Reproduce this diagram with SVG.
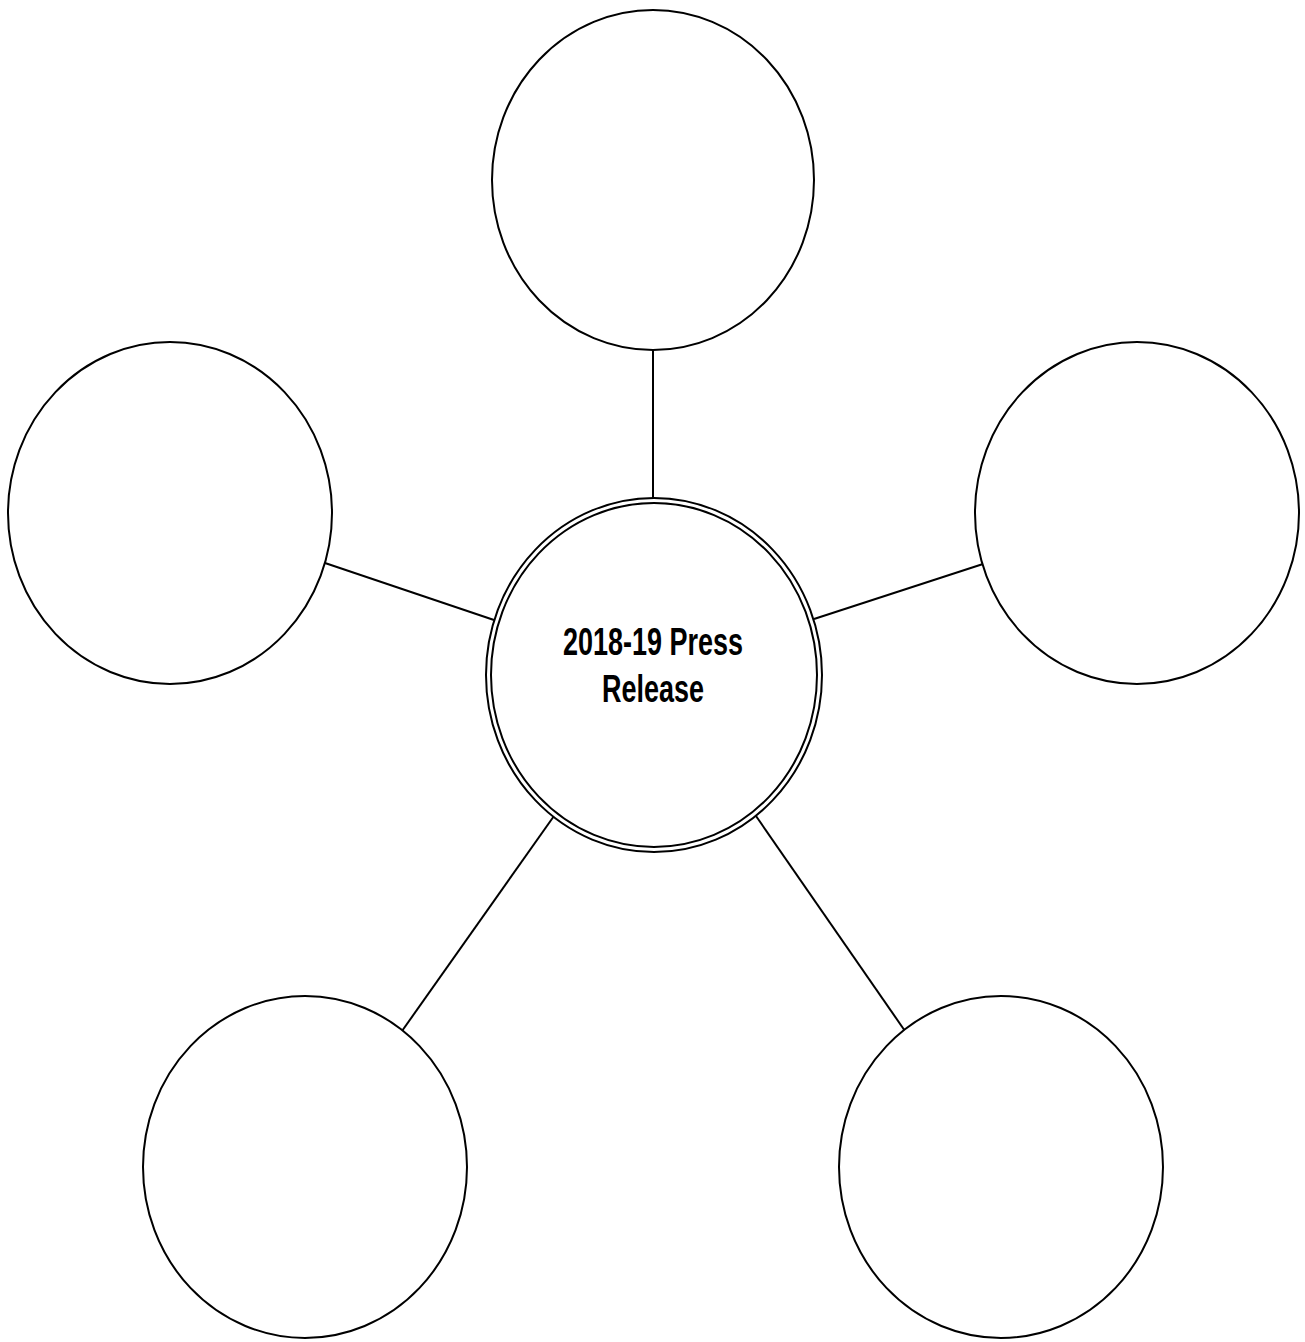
<svg xmlns="http://www.w3.org/2000/svg" width="1305" height="1342" viewBox="0 0 1305 1342">
<style>
.c{fill:#fff;stroke:#000;stroke-width:2}
.l{stroke:#000;stroke-width:2;fill:none}
.t{font-family:"Liberation Sans",Arial,sans-serif;font-weight:bold;font-size:27px;text-anchor:middle;fill:#000}
</style>
<rect width="1305" height="1342" fill="#fff"/>
<g id="connectors">
<line class="l" x1="653" y1="350" x2="653" y2="499"/>
<line class="l" x1="325" y1="563" x2="494" y2="620"/>
<line class="l" x1="814" y1="619" x2="983" y2="564"/>
<line class="l" x1="554" y1="816" x2="402" y2="1031"/>
<line class="l" x1="756" y1="816" x2="905" y2="1031"/>
</g>
<g id="node-top"><ellipse class="c" cx="653" cy="180" rx="161" ry="170"/></g>
<g id="node-left"><ellipse class="c" cx="170" cy="513" rx="162" ry="171"/></g>
<g id="node-right"><ellipse class="c" cx="1137" cy="513" rx="162" ry="171"/></g>
<g id="node-bottom-left"><ellipse class="c" cx="305" cy="1167" rx="162" ry="171"/></g>
<g id="node-bottom-right"><ellipse class="c" cx="1001" cy="1167" rx="162" ry="171"/></g>
<g id="node-center">
<ellipse class="c" cx="654" cy="675" rx="168" ry="177"/>
<ellipse class="c" cx="654" cy="675" rx="163" ry="172"/>
<text class="t" transform="translate(653,655) scale(1,1.45)">2018-19 Press</text>
<text class="t" transform="translate(653,702) scale(1,1.45)">Release</text>
</g>
</svg>
